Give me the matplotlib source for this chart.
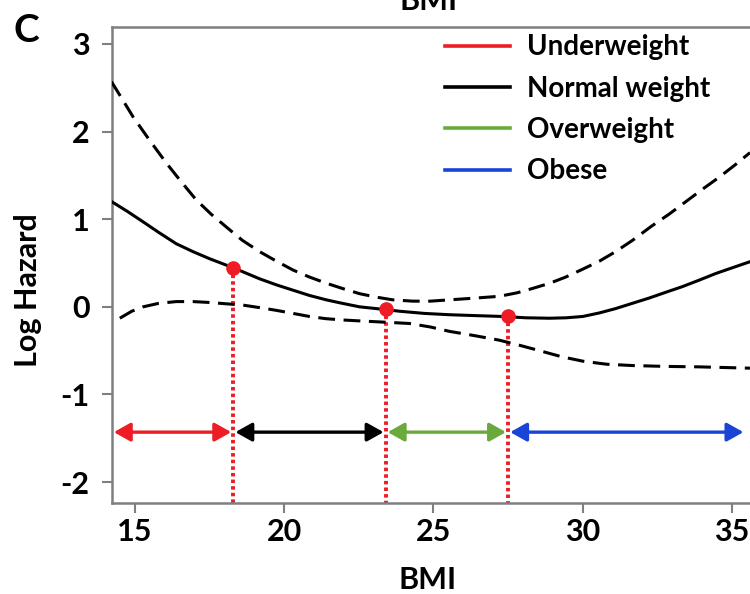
import matplotlib

matplotlib.use("Agg")

import matplotlib.pyplot as plt
from matplotlib.lines import Line2D

plt.rcParams["font.family"] = ["Lato", "DejaVu Sans"]
plt.rcParams["font.weight"] = "bold"
plt.rcParams["axes.unicode_minus"] = False

# values
bmi_fit = [14.23, 14.75, 15.28, 15.8, 16.39, 16.95, 17.5, 18.34, 19.18, 19.75, 20.3, 20.85,
           21.41, 21.95, 22.53, 23.36, 23.86, 24.7, 25.54, 26.4, 27.32, 28.1, 28.88, 29.45,
           30.0, 30.55, 31.1, 31.66, 32.22, 32.77, 33.33, 33.9, 34.45, 35.0, 35.6]
log_hazard = [1.20, 1.09, 0.97, 0.85, 0.72, 0.63, 0.55, 0.44, 0.32, 0.25, 0.19, 0.13,
              0.08, 0.04, 0.00, -0.03, -0.05, -0.075, -0.09, -0.10, -0.11, -0.125, -0.13, -0.125,
              -0.11, -0.07, -0.02, 0.04, 0.10, 0.165, 0.23, 0.305, 0.38, 0.445, 0.515]

bmi_upper = [14.22, 14.6, 14.94, 15.5, 16.06, 16.55, 17.06, 17.55, 18.07, 18.6, 19.18, 19.75,
             20.3, 20.85, 21.41, 21.95, 22.53, 23.1, 23.64, 24.3, 24.9, 25.54, 26.4, 27.2,
             27.8, 28.32, 28.9, 29.43, 30.0, 30.55, 31.1, 31.67, 32.3, 32.9, 33.45, 34.0,
             34.57, 35.1, 35.6]
upper_ci = [2.57, 2.36, 2.17, 1.90, 1.64, 1.43, 1.22, 1.06, 0.91, 0.76, 0.63, 0.52,
            0.42, 0.34, 0.27, 0.21, 0.15, 0.11, 0.08, 0.065, 0.065, 0.08, 0.10, 0.12,
            0.16, 0.21, 0.27, 0.34, 0.43, 0.52, 0.63, 0.76, 0.92, 1.06, 1.20, 1.34,
            1.48, 1.62, 1.76]

bmi_lower = [14.5, 14.9, 15.28, 15.8, 16.39, 16.95, 17.5, 18.05, 18.62, 19.2, 19.74, 20.3,
             20.85, 21.4, 21.97, 22.5, 23.08, 23.65, 24.2, 24.9, 25.54, 26.4, 27.2, 27.9,
             28.55, 29.3, 30.0, 30.8, 31.67, 32.8, 33.9, 35.6]
lower_ci = [-0.13, -0.05, 0.0, 0.04, 0.06, 0.06, 0.05, 0.035, 0.02, -0.01, -0.04, -0.075,
            -0.11, -0.135, -0.15, -0.16, -0.17, -0.18, -0.19, -0.23, -0.28, -0.33, -0.38, -0.44,
            -0.50, -0.57, -0.62, -0.655, -0.67, -0.68, -0.685, -0.70]

cutoff_bmi = [18.3, 23.4, 27.5]
cutoff_hazard = [0.44, -0.03, -0.11]

groups = ["Underweight", "Normal weight", "Overweight", "Obese"]
group_colors = ["#ee1c25", "#000000", "#6aaa3c", "#1a44d6"]
group_ranges = [(14.23, 18.3), (18.3, 23.4), (23.4, 27.5), (27.5, 35.45)]
arrow_y = -1.43

x_ticks = [15, 20, 25, 30, 35]
y_ticks = [-2, -1, 0, 1, 2, 3]

red = "#ee1c25"

fig = plt.figure(figsize=(7.5, 5.94), dpi=100)
ax = fig.add_axes([0.149, 0.153, 0.851, 0.801])

ax.plot(bmi_fit, log_hazard, color="black", lw=2.2, zorder=3)
ax.plot(bmi_upper, upper_ci, color="black", lw=2.2, dashes=(5.5, 2.8), zorder=3)
ax.plot(bmi_lower, lower_ci, color="black", lw=2.2, dashes=(5.5, 2.8), zorder=3)

for xc, yc in zip(cutoff_bmi, cutoff_hazard):
    ax.plot([xc, xc], [yc, -2.25], color=red, lw=2.8, linestyle=(0, (0.9, 0.8)), zorder=2)
ax.plot(cutoff_bmi, cutoff_hazard, "o", color=red, ms=9.5, zorder=4)

for (x0, x1), c in zip(group_ranges, group_colors):
    ax.annotate(
        "",
        xy=(x1, arrow_y),
        xytext=(x0, arrow_y),
        arrowprops=dict(
            arrowstyle="<|-|>,head_length=0.5,head_width=0.28",
            color=c,
            lw=2.4,
            shrinkA=1.5,
            shrinkB=1.5,
            mutation_scale=20,
        ),
        zorder=3,
    )

handles = [Line2D([], [], color=c, lw=2.6) for c in group_colors]
ax.legend(
    handles,
    groups,
    loc="upper left",
    bbox_to_anchor=(0.522, 0.985),
    frameon=False,
    fontsize=20,
    handlelength=2.35,
    handletextpad=0.6,
    labelspacing=0.55,
    borderpad=0,
    borderaxespad=0,
)

ax.set_xlim(14.23, 35.6)
ax.set_ylim(-2.24, 3.19)
ax.set_xticks(x_ticks)
ax.set_yticks(y_ticks)
ax.tick_params(axis="both", length=7, width=1.5, color="#7f7f7f", labelsize=22)
ax.tick_params(axis="x", pad=4)
ax.tick_params(axis="y", pad=9)
for lbl in ax.get_xticklabels() + ax.get_yticklabels():
    lbl.set_fontweight("bold")
for side in ["left", "bottom", "top"]:
    ax.spines[side].set_color("#7f7f7f")
    ax.spines[side].set_linewidth(1.8)
ax.spines["right"].set_visible(False)

ax.set_xlabel("BMI", fontsize=22, fontweight="bold")
ax.set_ylabel("Log Hazard", fontsize=22, fontweight="bold")
ax.xaxis.set_label_coords(0.495, -0.132)
ax.yaxis.set_label_coords(-0.11, 0.448)

fig.text(0.571, 0.983, "BMI", ha="center", va="baseline", fontsize=22, fontweight="bold")
fig.text(0.018, 0.948, "C", ha="left", va="center", fontsize=28, fontweight="bold")

fig.savefig("out.png", dpi=100)
